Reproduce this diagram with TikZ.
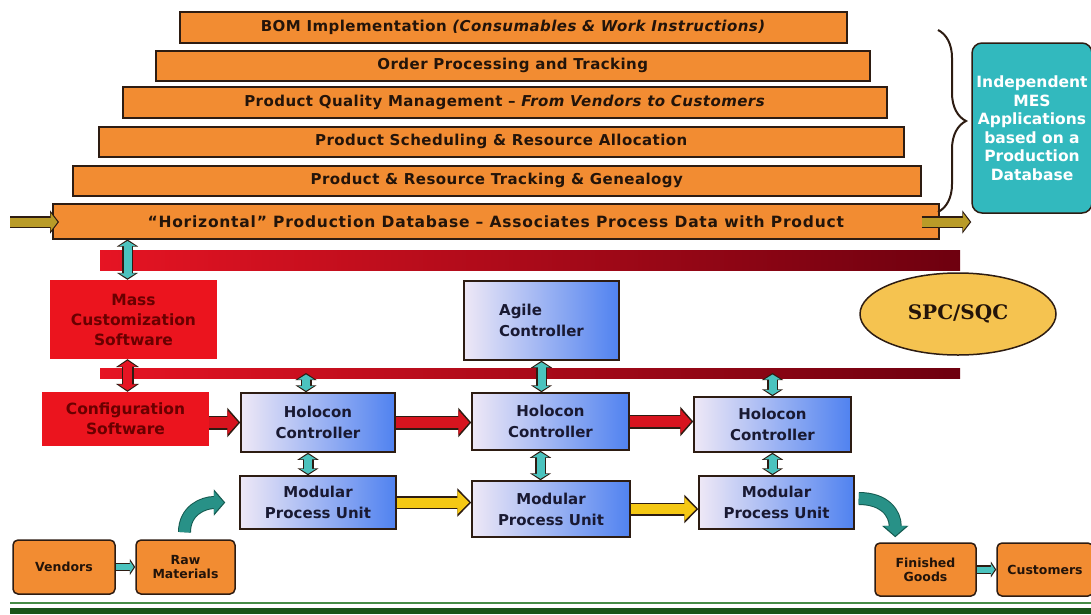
\documentclass[tikz,border=0pt]{standalone}
\usepackage{fontspec}
\setmainfont{DejaVu Sans}
\newfontfamily\spcfont{DejaVu Serif}
\usetikzlibrary{arrows.meta,calc,shapes.geometric,decorations.pathreplacing}

\definecolor{barorange}{RGB}{242,140,50}
\definecolor{barline}{RGB}{45,28,18}
\definecolor{bartext}{RGB}{35,20,10}
\definecolor{mesteal}{RGB}{50,185,190}
\definecolor{arrteal}{RGB}{75,195,190}
\definecolor{curveteal}{RGB}{40,145,135}
\definecolor{darkteal}{RGB}{20,90,80}
\definecolor{busred}{RGB}{230,20,35}
\definecolor{busdark}{RGB}{110,0,15}
\definecolor{boxred}{RGB}{235,20,30}
\definecolor{redtext}{RGB}{105,0,0}
\definecolor{holoL}{RGB}{238,232,246}
\definecolor{holoR}{RGB}{80,130,240}
\definecolor{navytext}{RGB}{25,25,50}
\definecolor{arryellow}{RGB}{245,200,20}
\definecolor{arrred}{RGB}{215,20,30}
\definecolor{spcgold}{RGB}{245,195,80}
\definecolor{dbgold}{RGB}{185,155,40}
\definecolor{lineGreen}{RGB}{70,140,70}
\definecolor{deepGreen}{RGB}{25,85,25}

\tikzset{
  layer/.style={draw=barline, line width=1.5pt, fill=barorange, text=bartext, anchor=north west,
    inner sep=0pt, minimum height=31pt, font=\fontsize{15}{17}\selectfont\bfseries\addfontfeature{LetterSpace=3}},
  redbox/.style={fill=boxred, text=redtext, align=center, inner sep=0pt,
    font=\fontsize{15.5}{20}\selectfont\bfseries},
  holo/.style={draw=barline, line width=1.5pt, left color=holoL, right color=holoR, text=navytext,
    align=center, inner sep=0pt, font=\fontsize{15}{21}\selectfont\bfseries},
  endbox/.style={draw=barline, line width=1.5pt, fill=barorange, rounded corners=5pt, text=bartext,
    align=center, inner sep=0pt, minimum height=54pt, font=\fontsize{12.5}{14}\selectfont\bfseries},
  bus/.style={left color=busred, right color=busdark, inner sep=0pt},
  brace/.style={decorate, decoration={brace, amplitude=28pt}, draw=barline, line width=2pt},
  tealdbl/.style={draw=arrteal, line width=8pt, {Triangle[length=5pt,width=16pt]}-{Triangle[length=5pt,width=16pt]},
    shorten <=1.5pt, shorten >=1.5pt,
    preaction={draw=barline, line width=11pt, {Triangle[length=7pt,width=21pt]}-{Triangle[length=7pt,width=21pt]},
      shorten <=0pt, shorten >=0pt}},
  reddbl/.style={draw=busred, line width=9pt, {Triangle[length=6pt,width=18pt]}-{Triangle[length=6pt,width=18pt]},
    shorten <=1.5pt, shorten >=1.5pt,
    preaction={draw=barline, line width=12pt, {Triangle[length=8pt,width=23pt]}-{Triangle[length=8pt,width=23pt]},
      shorten <=0pt, shorten >=0pt}},
  redarr/.style={draw=arrred, line width=11pt, -{Triangle[length=11pt,width=24pt]}, shorten >=2pt,
    preaction={draw=barline, line width=14pt, -{Triangle[length=13pt,width=29pt]}, shorten >=0pt}},
  yelarr/.style={draw=arryellow, line width=10pt, -{Triangle[length=12pt,width=23pt]}, shorten >=2pt,
    preaction={draw=barline, line width=13pt, -{Triangle[length=14pt,width=28pt]}, shorten >=0pt}},
  smallteal/.style={draw=arrteal, line width=6pt, -{Triangle[length=4pt,width=12pt]}, shorten >=1.5pt,
    preaction={draw=barline, line width=8.5pt, -{Triangle[length=5.5pt,width=16pt]}, shorten >=0pt}},
  curvearr/.style={draw=curveteal, line width=11pt, -{Triangle[length=10pt,width=22pt]}, shorten >=1.5pt,
    preaction={draw=darkteal, line width=13pt, -{Triangle[length=11.5pt,width=26pt]}, shorten >=0pt}},
  dbarrow/.style={draw=dbgold, line width=9pt, -{Triangle[length=7pt,width=18pt]}, shorten >=1.5pt,
    preaction={draw=barline, line width=12pt, -{Triangle[length=9pt,width=23pt]}, shorten >=0pt}},
}

\begin{document}
\begin{tikzpicture}[x=1pt, y=-1pt]
\useasboundingbox (0,0) rectangle (1091,614);

% MES layers
\node[layer, minimum width=667pt] (bom) at (179,11) {BOM Implementation \textit{(Consumables \& Work Instructions)}};
\node[layer, minimum width=714pt, minimum height=30pt] (order) at (155,50) {Order Processing and Tracking};
\node[layer, minimum width=764pt] (quality) at (122,86) {Product Quality Management -- \textit{From Vendors to Customers}};
\node[layer, minimum width=805pt, minimum height=30pt] (sched) at (98,126) {Product Scheduling \& Resource Allocation};
\node[layer, minimum width=848pt, minimum height=30pt] (track) at (72,165) {Product \& Resource Tracking \& Genealogy};
\node[layer, minimum width=886pt, minimum height=35pt, font=\fontsize{15.5}{17}\selectfont\bfseries\addfontfeature{LetterSpace=5}]
  (db) at (52,203) {``Horizontal'' Production Database -- Associates Process Data with Product};

% Brace and MES box
\draw[brace] (938,30) -- (938,212);
\node[draw=barline, line width=1.5pt, fill=mesteal, rounded corners=10pt, text=white, align=center,
  minimum width=120pt, minimum height=170pt, inner sep=0pt,
  font=\fontsize{15.5}{18.5}\selectfont\bfseries] (mes) at (1032,128)
  {Independent\\MES\\Applications\\based on a\\Production\\Database};

% Database in / out
\coordinate (dbin) at (10,222);
\draw[dbarrow] (dbin) -- ($(db.west |- dbin)+(7,0)$);
\draw[dbarrow] ($(db.east |- dbin)+(-18,0)$) -- (mes.west |- dbin);

% Buses
\node[bus, minimum width=860pt, minimum height=20pt] (bus1) at (530,260) {};
\node[bus, minimum width=860pt, minimum height=10pt] (bus2) at (530,373) {};

% Software boxes
\node[redbox, minimum width=167pt, minimum height=79pt] (mass) at (133.5,319.5) {Mass\\Customization\\Software};
\node[redbox, minimum width=167pt, minimum height=54pt] (config) at (125.5,419) {Configuration\\Software};

% Controllers and process units
\node[holo, align=left, minimum width=155pt, minimum height=79pt] (agile) at (541.5,320.5) {Agile\\Controller};
\node[holo, minimum width=154pt, minimum height=59pt] (h1) at (318,422.5) {Holocon\\Controller};
\node[holo, minimum width=157pt, minimum height=57pt] (h2) at (550.5,421.5) {Holocon\\Controller};
\node[holo, minimum width=157pt, minimum height=55pt] (h3) at (772.5,424.5) {Holocon\\Controller};
\node[holo, minimum width=156pt, minimum height=53pt] (m1) at (318,502.5) {Modular\\Process Unit};
\node[holo, minimum width=158pt, minimum height=56pt] (m2) at (551,509) {Modular\\Process Unit};
\node[holo, minimum width=155pt, minimum height=53pt] (m3) at (776.5,502.5) {Modular\\Process Unit};

% SPC/SQC
\node[ellipse, draw=barline, line width=1.5pt, fill=spcgold, minimum width=196pt, minimum height=82pt,
  text=bartext, font=\spcfont\bfseries\fontsize{20}{22}\selectfont] (spc) at (958,314) {SPC/SQC};

% Supply chain ends
\node[endbox, minimum width=102pt] (vend) at (64,567) {Vendors};
\node[endbox, minimum width=99pt] (raw) at (185.5,567) {Raw\\Materials};
\node[endbox, minimum width=101pt, minimum height=53pt] (fin) at (925.5,569.5) {Finished\\Goods};
\node[endbox, minimum width=96pt, minimum height=53pt] (cust) at (1045,569.5) {Customers};

% Vertical links
\coordinate (mc) at ($(mass.north)+(-6,0)$);
\draw[tealdbl] (mc |- db.south) -- (mc |- mass.north);
\draw[reddbl] (mc |- mass.south) -- (mc |- config.north);
\coordinate (t1) at ($(h1.north)+(-12,0)$);
\draw[tealdbl] (t1 |- bus2.center) -- (t1);
\draw[tealdbl] (agile.south) -- (agile.south |- h2.north);
\draw[tealdbl] (h3.north |- bus2.center) -- (h3.north);
\draw[tealdbl] ($(h1.south)+(-10,0)$) -- ($(m1.north)+(-10,0)$);
\coordinate (t2) at ($(h2.south)+(-10,0)$);
\draw[tealdbl] (t2) -- (t2 |- m2.north);
\draw[tealdbl] (h3.south) -- (h3.south |- m3.north);

% Horizontal flow
\draw[redarr] (h1.west -| config.east) -- (h1.west);
\draw[redarr] (h1.east) -- (h2.west |- h1.east);
\draw[redarr] (h2.east) -- (h3.west |- h2.east);
\draw[yelarr] (m1.east) -- (m2.west |- m1.east);
\draw[yelarr] (m2.east) -- (m3.west |- m2.east);
\draw[smallteal] (vend.east) -- (raw.west);
\draw[smallteal] (fin.east) -- (cust.west);

% Material in / out
\draw[curvearr] ($(raw.north)+(-1,-7)$) .. controls +(0,-22) and +(-22,0) .. ($(m1.west)+(-14,0)$);
\draw[curvearr] ($(m3.east)+(4,-4)$) .. controls +(26,0) and +(0,-24) .. ($(fin.north west)+(21,-5)$);

% Bottom rule
\draw[lineGreen, line width=2pt] (10,603) -- (1091,603);
\fill[deepGreen] (10,608) rectangle (1091,614);

\end{tikzpicture}
\end{document}
